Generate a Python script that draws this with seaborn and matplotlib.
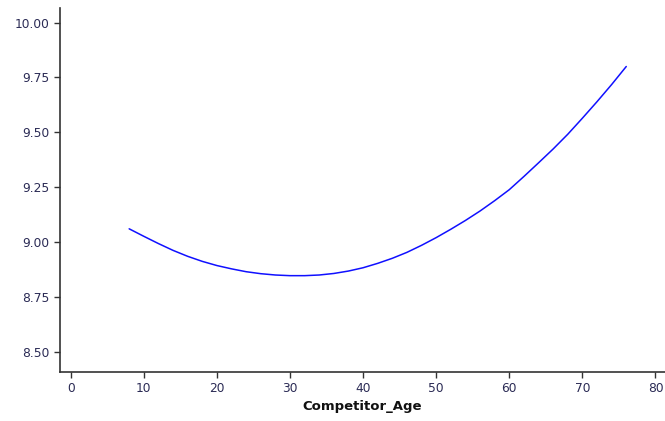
import numpy as np
import pandas as pd
import matplotlib
matplotlib.use('Agg')
import matplotlib.pyplot as plt
import seaborn as sns

# values
age = [8, 10, 12, 14, 16, 18, 20, 22, 24, 26, 28, 30, 32, 34, 36, 38, 40, 42,
       44, 46, 48, 50, 52, 54, 56, 58, 60, 62, 64, 66, 68, 70, 72, 74, 76]
value = [9.062, 9.028, 8.995, 8.964, 8.937, 8.914, 8.895, 8.880, 8.867, 8.858,
         8.852, 8.849, 8.849, 8.852, 8.859, 8.870, 8.885, 8.905, 8.928, 8.955,
         8.987, 9.022, 9.060, 9.100, 9.143, 9.190, 9.240, 9.300, 9.362, 9.425,
         9.492, 9.565, 9.640, 9.718, 9.800]
x_ticks = [0, 10, 20, 30, 40, 50, 60, 70, 80]
y_ticks = [8.50, 8.75, 9.00, 9.25, 9.50, 9.75, 10.00]

df = pd.DataFrame({'Competitor_Age': age, 'value': value})

sns.set_style('ticks')
plt.rcParams['font.family'] = ['DejaVu Sans']

fig = plt.figure(figsize=(6.65, 4.21), dpi=100)
ax = fig.add_axes([0.0898, 0.1164, 0.9102, 0.8646])

sns.lineplot(data=df, x='Competitor_Age', y='value', color='#1010ff', linewidth=1.1, ax=ax)

ax.set_xlim(-1.5, 81.3)
ax.set_ylim(8.411, 10.066)
ax.set_xticks(x_ticks)
ax.set_yticks(y_ticks)
ax.set_yticklabels([f'{v:.2f}' for v in y_ticks])
ax.set_xlabel('Competitor_Age', fontsize=9.5, fontweight='bold', color='#111111', labelpad=3)
ax.set_ylabel('')

ax.tick_params(axis='both', labelsize=8.8, labelcolor='#2b2b55', color='#333333',
               length=4, width=1)
for side in ['top', 'right']:
    ax.spines[side].set_visible(False)
for side in ['left', 'bottom']:
    ax.spines[side].set_color('#333333')
    ax.spines[side].set_linewidth(1.2)

fig.savefig('out.png', dpi=100)
